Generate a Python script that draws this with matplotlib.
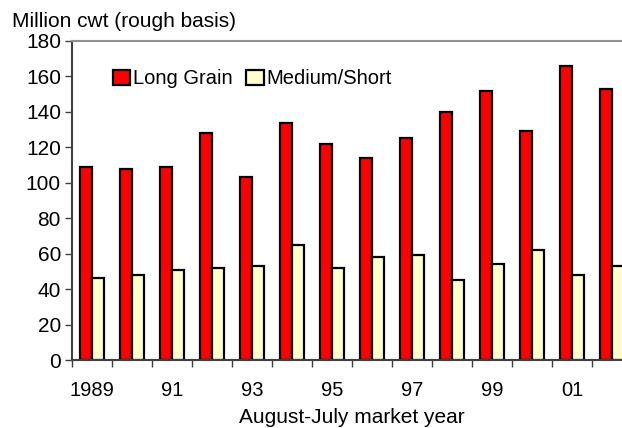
import matplotlib.pyplot as plt
import numpy as np

plt.rcParams['font.family'] = ['Liberation Sans', 'DejaVu Sans']

years = ['1989', '', '91', '', '93', '', '95', '', '97', '', '99', '', '01', '']
long_grain = [109, 108, 109, 128, 103, 134, 122, 114, 125, 140, 152, 129, 166, 153]
medium_short = [46, 48, 51, 52, 53, 65, 52, 58, 59, 45, 54, 62, 48, 53]

fig = plt.figure(figsize=(6.22, 4.28), dpi=100)
ax = fig.add_axes([72 / 622, 68 / 428, 560 / 622, 319 / 428])

x = np.arange(len(years))
w = 0.29
ax.bar(x - w / 2, long_grain, w, color='#ff0000', edgecolor='black', linewidth=1.6,
       label='Long Grain')
ax.bar(x + w / 2, medium_short, w, color='#ffffcc', edgecolor='black', linewidth=1.6,
       label='Medium/Short')

ax.set_xlim(-0.5, len(years) - 0.5)
ax.set_ylim(0, 180)
ax.set_yticks(range(0, 181, 20))
ax.tick_params(axis='y', labelsize=15, length=5, width=1, color='#404040', pad=3)

ax.set_xticks(x)
ax.set_xticklabels(years)
ax.set_xticks(np.arange(-0.5, len(years), 1), minor=True)
ax.tick_params(axis='x', which='major', length=0, labelsize=14.5, pad=15)
ax.tick_params(axis='x', which='minor', length=5, width=1, color='#404040')

ax.spines['left'].set_color('#404040')
ax.spines['left'].set_linewidth(1.5)
ax.spines['bottom'].set_color('#404040')
ax.spines['bottom'].set_linewidth(1.5)
ax.spines['top'].set_color('#909090')
ax.spines['top'].set_linewidth(1.5)
ax.spines['right'].set_visible(False)

ax.set_xlabel('August-July market year', fontsize=15, labelpad=6)
fig.text(12 / 622, 1 - 27 / 428, 'Million cwt (rough basis)', fontsize=15,
         va='baseline', ha='left')

ax.legend(loc='center left', bbox_to_anchor=(0.073, 0.881), frameon=False, fontsize=14.5,
          handlelength=0.87, handleheight=0.72, handletextpad=0.15, columnspacing=0.65,
          ncol=2, borderaxespad=0, borderpad=0)

fig.savefig('out.png', dpi=100)
